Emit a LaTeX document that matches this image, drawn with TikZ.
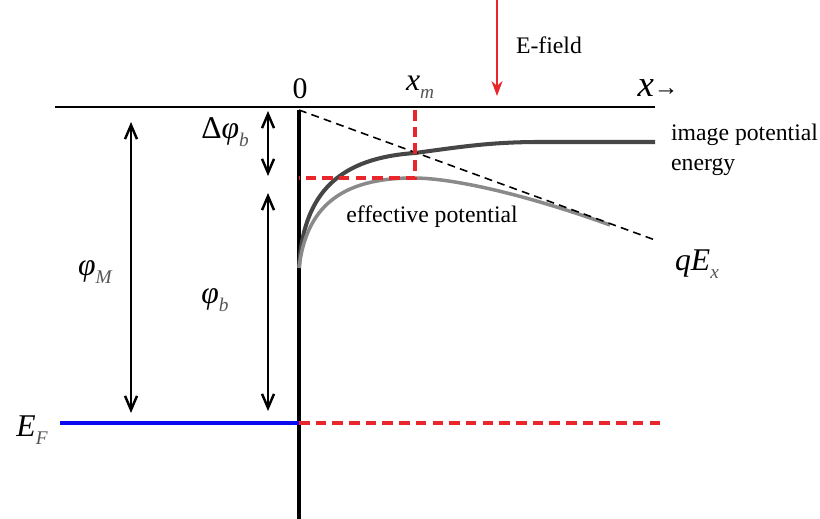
\documentclass[tikz,border=0pt]{standalone}
\usepackage{fontspec}
\setmainfont{Liberation Serif}
\usepackage{tikz}
\usetikzlibrary{arrows.meta}
\definecolor{FieldRed}{HTML}{E8262B}
\definecolor{FermiBlue}{HTML}{0A0AF0}
\definecolor{ImageGray}{HTML}{464646}
\definecolor{EffGray}{HTML}{8A8A8A}
\definecolor{SubGray}{HTML}{555555}
\newcommand{\symlbl}[2]{{\itshape #1}\raisebox{-0.55ex}{\fontsize{11}{11}\selectfont\itshape\color{SubGray}#2}}

\begin{document}
\begin{tikzpicture}[x=0.02cm,y=-0.02cm,
level/.style={line width=1.6pt},
wall/.style={line width=2pt},
dbl/.style={{Straight Barb[length=2.8mm,width=2.4mm]}-{Straight Barb[length=2.8mm,width=2.4mm]},line width=1.4pt},
reddash/.style={FieldRed,line width=2.2pt,dash pattern=on 6pt off 3.5pt},
txt/.style={font=\fontsize{13.5}{17}\selectfont,inner sep=1pt},
sym/.style={font=\fontsize{18}{20}\selectfont,inner sep=1pt}
]
\useasboundingbox (0,0) rectangle (820,519);
% reference points
\coordinate (vacL) at (55,107);
\coordinate (vacR) at (655,107);
\coordinate (wallT) at (299,110);
\coordinate (wallB) at (299,519);
\coordinate (fermiL) at (60,423);
\coordinate (fermiM) at (299,423);
\coordinate (fermiR) at (660,423);
\coordinate (xmT) at (415,110);
\coordinate (xmB) at (415,178);
\coordinate (barT) at (299,178);
\coordinate (fieldEnd) at (655,240);
\coordinate (efT) at (497,0);
\coordinate (efB) at (497,96);
% levels
\draw[level] (vacL) -- (vacR);
\draw[wall] (wallT) -- (wallB);
\draw[FermiBlue,line width=2.8pt] (fermiL) -- (fermiM);
\draw[reddash] (fermiM) -- (fermiR);
% potentials
\draw[ImageGray,line width=2.3pt] (299,268) .. controls (303,190) and (342,158) .. (415,153)
  .. controls (460,147) and (490,142) .. (540,142) -- (655,142);
\draw[EffGray,line width=2pt] (299,268) .. controls (306,208) and (340,178) .. (413,178)
  .. controls (455,178) and (530,196) .. (610,225);
\draw[dashed,line width=0.9pt,dash pattern=on 4.5pt off 3pt] (wallT) -- (fieldEnd);
\draw[reddash] (xmT) -- (xmB) -- (barT);
% arrows
\draw[FieldRed,line width=1.2pt,-{Stealth[length=3mm,width=2.2mm]}] (efT) -- (efB);
\draw[dbl] (131,122) coordinate (mT) -- (131,413) coordinate (mB);
\draw[dbl] (268,111) coordinate (dT) -- (268,176) coordinate (dB);
\draw[dbl] (268,193) coordinate (bT) -- (268,411) coordinate (bB);
% labels
\node[sym,font=\fontsize{17}{20}\selectfont] (zero) at (300,89) {0};
\node[sym] (xm) at (420,87) {\symlbl{x}{m}};
\node[sym,font=\fontsize{21}{22}\selectfont] (xax) at (658,88) {{\itshape x}\raisebox{0.05ex}{\fontsize{14}{14}\selectfont →}};
\node[txt] (field) at (549,45) {E-field};
\node[txt,anchor=west,align=left] (imgl) at (669,150) {image potential\\energy};
\node[txt] (effl) at (432,217) {effective potential};
\node[sym] (qex) at (697,264) {{\itshape q}\symlbl{E}{x}};
\node[sym] (phim) at (95,272) {\symlbl{φ}{M}};
\node[sym] (dphib) at (225,132) {Δ\symlbl{φ}{b}};
\node[sym] (phib) at (215,300) {\symlbl{φ}{b}};
\node[sym] (ef) at (32,430) {\symlbl{E}{F}};
\end{tikzpicture}
\end{document}
